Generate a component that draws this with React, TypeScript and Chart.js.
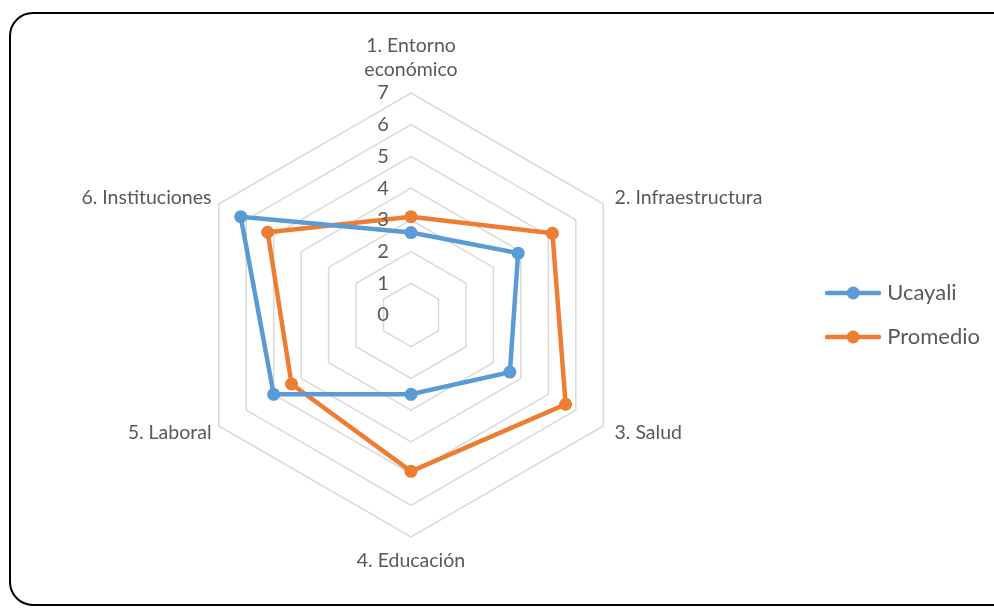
import React, { useEffect, useRef } from "react";
import { Chart, registerables } from "chart.js";

Chart.register(...registerables);

const categories: string[][] = [
  ["1. Entorno", "económico"],
  ["2. Infraestructura"],
  ["3. Salud"],
  ["4. Educación"],
  ["5. Laboral"],
  ["6. Instituciones"],
];
const ucayali = [2.6, 3.9, 3.6, 2.5, 5.0, 6.2];
const promedio = [3.1, 5.15, 5.63, 4.93, 4.35, 5.22];
const tickValues = [0, 1, 2, 3, 4, 5, 6, 7];

const BLUE = "#5B9BD5";
const ORANGE = "#ED7D31";
const TEXT = "#595959";
const FONT = "Lato";

function legendMarker(color: string): HTMLCanvasElement {
  const c = document.createElement("canvas");
  c.width = 56;
  c.height = 16;
  const ctx = c.getContext("2d")!;
  ctx.strokeStyle = color;
  ctx.lineWidth = 4.5;
  ctx.lineCap = "round";
  ctx.beginPath();
  ctx.moveTo(2, 8);
  ctx.lineTo(54, 8);
  ctx.stroke();
  ctx.fillStyle = color;
  ctx.beginPath();
  ctx.arc(28, 8, 6.5, 0, Math.PI * 2);
  ctx.fill();
  return c;
}

const radarLabelsPlugin = {
  id: "radarLabels",
  afterDraw(chart: any) {
    const s = chart.scales.r;
    const ctx = chart.ctx;
    ctx.save();
    // tick labels, left of the vertical axis
    ctx.font = `20px ${FONT}`;
    ctx.fillStyle = TEXT;
    ctx.textAlign = "center";
    ctx.textBaseline = "middle";
    tickValues.forEach((v) => {
      const d = s.getDistanceFromCenterForValue(v);
      ctx.fillText(String(v), s.xCenter - 28, s.yCenter - d);
    });
    // point labels
    ctx.font = `19.5px ${FONT}`;
    const n = categories.length;
    categories.forEach((lines, i) => {
      const p = s.getPointPosition(i, s.drawingArea + 13);
      const angleDeg = (i * 360) / n;
      if (angleDeg === 0) {
        ctx.textAlign = "center";
        lines.forEach((t, k) => {
          ctx.fillText(t, p.x, p.y - 10 - (lines.length - 1 - k) * 24);
        });
      } else if (angleDeg === 180) {
        ctx.textAlign = "center";
        lines.forEach((t, k) => ctx.fillText(t, p.x, p.y + 11 + k * 24));
      } else {
        ctx.textAlign = angleDeg < 180 ? "left" : "right";
        const dx = angleDeg < 180 ? 0 : 4;
        lines.forEach((t, k) =>
          ctx.fillText(t, p.x + dx, p.y + (k - (lines.length - 1) / 2) * 24)
        );
      }
    });
    ctx.restore();
  },
};

export default function App() {
  const ref = useRef<HTMLCanvasElement>(null);
  useEffect(() => {
    if (!ref.current) return;
    const markers = [legendMarker(BLUE), legendMarker(ORANGE)];
    const chart = new Chart(ref.current, {
      type: "radar",
      data: {
        labels: categories.map((c) => c.join(" ")),
        datasets: [
          {
            label: "Ucayali",
            data: ucayali,
            borderColor: BLUE,
            backgroundColor: BLUE,
            pointBackgroundColor: BLUE,
            fill: false,
          },
          {
            label: "Promedio",
            data: promedio,
            borderColor: ORANGE,
            backgroundColor: ORANGE,
            pointBackgroundColor: ORANGE,
            fill: false,
          },
        ],
      },
      options: {
        responsive: false,
        animation: false,
        layout: { padding: { top: 18, right: 4, bottom: 0, left: 0 } },
        elements: {
          line: { borderWidth: 4.5, tension: 0 },
          point: { radius: 6.5, borderWidth: 0, hoverRadius: 6.5 },
        },
        scales: {
          r: {
            min: 0,
            max: 7,
            ticks: { stepSize: 1, display: false },
            grid: { color: "#D9D9D9", lineWidth: 1.5 },
            angleLines: { display: false },
            pointLabels: { display: false },
            afterFit: (s: any) => {
              s.xCenter = 411;
              s.yCenter = 315;
              s.drawingArea = 222;
            },
          },
        },
        plugins: {
          tooltip: { enabled: false },
          legend: {
            position: "right",
            labels: {
              font: { family: FONT, size: 22 },
              color: TEXT,
              usePointStyle: true,
              pointStyleWidth: 46,
              padding: 22,
              generateLabels: (c: any) =>
                Chart.defaults.plugins.legend.labels
                  .generateLabels(c)
                  .map((l: any, i: number) => ({ ...l, pointStyle: markers[i] })),
            },
          },
        },
      },
      plugins: [radarLabelsPlugin],
    } as any);
    return () => chart.destroy();
  }, []);

  return (
    <div
      style={{
        position: "fixed",
        left: 0,
        top: 0,
        width: 994,
        height: 612,
        overflow: "hidden",
        background: "#fff",
      }}
    >
      <div
        style={{
          position: "absolute",
          left: 9,
          top: 12,
          width: 1010,
          height: 594,
          border: "2px solid #000",
          borderRadius: 24,
          boxSizing: "border-box",
        }}
      />
      <canvas
        ref={ref}
        width={994}
        height={612}
        style={{ position: "absolute", left: 0, top: 0 }}
      />
    </div>
  );
}
